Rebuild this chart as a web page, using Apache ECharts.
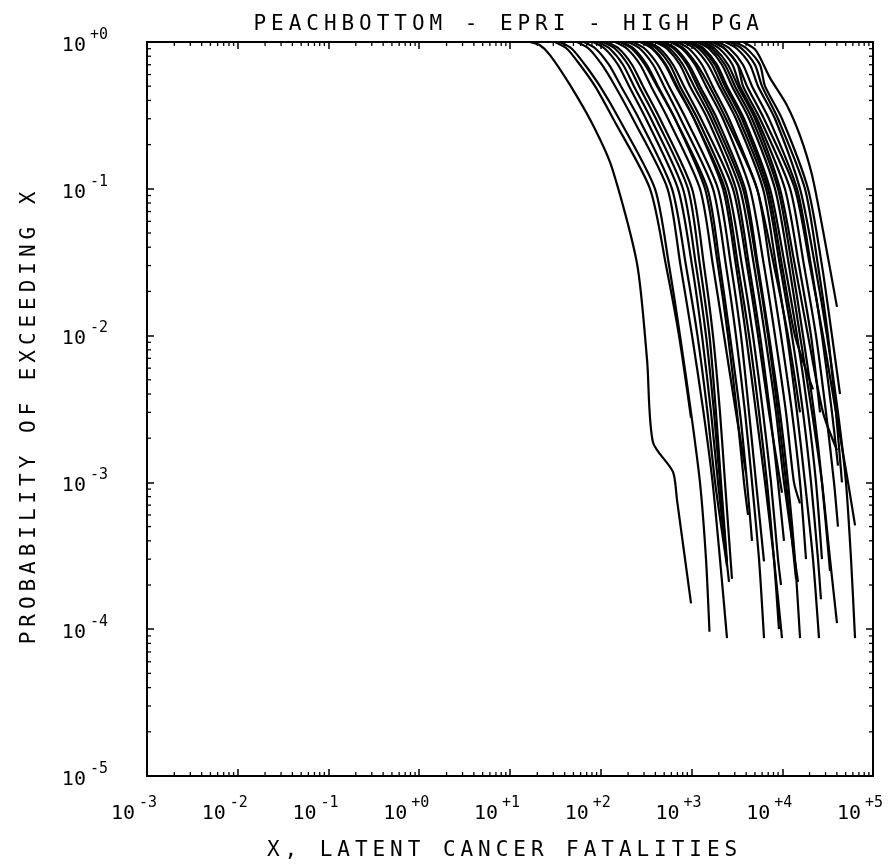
<!DOCTYPE html>
<html>
<head>
<meta charset="utf-8">
<script src="https://cdn.jsdelivr.net/npm/echarts@6/dist/echarts.min.js"></script>
<style>
html,body{margin:0;padding:0;background:#fff;}
#chart{width:895px;height:867px;}
</style>
</head>
<body>
<div id="chart"></div>
<script>
// ---- text ----
const TITLE = 'PEACHBOTTOM - EPRI - HIGH PGA';
const X_NAME = 'X, LATENT CANCER FATALITIES';
const Y_NAME = 'PROBABILITY OF EXCEEDING X';
const X_TICK_LABELS = ['-3','-2','-1','+0','+1','+2','+3','+4','+5'];   // exponents 10^-3 .. 10^5
const Y_TICK_LABELS = ['-5','-4','-3','-2','-1','+0'];                   // exponents 10^-5 .. 10^0

// ---- curves: [x (latent cancer fatalities), probability of exceeding x] ----
const c01 = [[16.6,1],[21.4,0.95],[27.6,0.815],[45.8,0.51],[82,0.272],[133,0.139],[251,0.031],[324,0.0068],[376,0.00188],[625,0.00118],[692,0.00076],[988,0.00015]];
const c02 = [[31.3,1],[42.4,0.9],[59,0.7],[86.5,0.5],[137,0.3],[349,0.1],[524,0.03],[728,0.01],[988,0.00275]];
const c03 = [[35.6,1],[48,0.9],[67,0.7],[98,0.5],[159,0.3],[396,0.1],[566,0.03],[747,0.01],[988,0.003],[1240,0.001],[1445,0.0003],[1578,0.000096]];
const c04 = [[54.7,1],[74,0.9],[103,0.7],[144,0.5],[226,0.3],[545,0.1],[757,0.03],[1014,0.01],[1357,0.003],[1708,0.001],[2060,0.0003],[2462,0.000087]];
const c05 = [[65.3,1],[88,0.9],[123,0.7],[167,0.5],[264,0.3],[610,0.1],[869,0.03],[1164,0.01],[1500,0.003],[1820,0.001],[2462,0.00027]];
const c06 = [[82.2,1],[111,0.9],[155,0.7],[205,0.5],[315,0.3],[710,0.1],[1014,0.03],[1305,0.01],[1641,0.003],[1958,0.001],[2590,0.00021]];
const c07 = [[106,1],[144,0.9],[200,0.7],[264,0.5],[406,0.3],[915,0.1],[1240,0.03],[1578,0.01],[1862,0.003],[2114,0.001],[2462,0.00029]];
const c08 = [[117,1],[159,0.9],[221,0.7],[292,0.5],[450,0.3],[1014,0.1],[1374,0.03],[1725,0.01],[2060,0.003],[2339,0.001],[2793,0.00022]];
const c09 = [[144,1],[195,0.9],[272,0.7],[358,0.5],[551,0.3],[1240,0.1],[1725,0.03],[2281,0.01],[3090,0.003],[3990,0.00116]];
const c10 = [[200,1],[271,0.9],[377,0.7],[498,0.5],[757,0.3],[1725,0.1],[2399,0.03],[3090,0.01],[3890,0.003],[4645,0.001],[5546,0.0003],[6295,0.000087]];
const c11 = [[226,1],[306,0.9],[426,0.7],[565,0.5],[869,0.3],[1958,0.1],[2723,0.03],[3509,0.01],[4305,0.003],[5140,0.001],[6295,0.00029]];
const c12 = [[278,1],[377,0.9],[524,0.7],[692,0.5],[1066,0.3],[2223,0.1],[3090,0.03],[3990,0.01],[5140,0.003],[6460,0.001],[8110,0.0003],[9936,0.000087]];
const c13 = [[332,1],[450,0.9],[626,0.7],[826,0.5],[1273,0.3],[2866,0.1],[4090,0.03],[5410,0.01],[7145,0.003],[9936,0.00085]];
const c14 = [[427,1],[579,0.9],[805,0.7],[1066,0.5],[1641,0.3],[3420,0.1],[4885,0.03],[6460,0.01],[8530,0.003],[10450,0.001],[14920,0.00021]];
const c15 = [[498,1],[675,0.9],[939,0.7],[1240,0.5],[1910,0.3],[3890,0.1],[5410,0.03],[7145,0.01],[9440,0.003],[11570,0.001],[13800,0.0003],[15700,0.000087]];
const c16 = [[580,1],[786,0.9],[1094,0.7],[1445,0.5],[2223,0.3],[4410,0.1],[6295,0.03],[8320,0.01],[11000,0.003],[13460,0.001],[15700,0.00072]];
const c17 = [[692,1],[938,0.9],[1305,0.7],[1708,0.5],[2590,0.3],[5270,0.1],[8110,0.03],[11570,0.01],[15700,0.003]];
const c18 = [[805,1],[1090,0.9],[1518,0.7],[2009,0.5],[3090,0.3],[6138,0.1],[8530,0.03],[11280,0.01],[14540,0.003],[17800,0.001],[21820,0.0003],[25410,0.000087]];
const c19 = [[962,1],[1305,0.9],[1814,0.7],[2339,0.5],[3600,0.3],[6966,0.1],[9936,0.03],[13800,0.01],[21820,0.0043]];
const c20 = [[1150,1],[1560,0.9],[2169,0.7],[2793,0.5],[4305,0.3],[8320,0.1],[11860,0.03],[15700,0.01],[21280,0.003],[27400,0.001],[33600,0.0003],[40090,0.00011]];
const c21 = [[1340,1],[1815,0.9],[2527,0.7],[3253,0.5],[5010,0.3],[9440,0.1],[13800,0.03],[19230,0.01],[28120,0.003],[40090,0.00166]];
const c22 = [[1725,1],[2340,0.9],[3253,0.7],[4090,0.5],[6295,0.3],[13800,0.1],[20200,0.03],[28120,0.01],[39090,0.003],[53090,0.001],[63400,0.00051]];
const c23 = [[2339,1],[3170,0.9],[4411,0.7],[5410,0.5],[8320,0.3],[15700,0.1],[23000,0.03],[31120,0.01],[41110,0.003],[50350,0.001],[57260,0.0003],[63400,0.000087]];
const c24 = [[3698,1],[5100,0.88],[7330,0.57],[11280,0.37],[15700,0.23],[21280,0.124],[28120,0.052],[40090,0.0157]];
const c25 = [[3010,1],[4080,0.9],[5677,0.7],[6460,0.5],[9936,0.3],[19230,0.1],[27400,0.03],[35320,0.01],[43300,0.004]];
const c26 = [[171,1],[232,0.9],[322,0.7],[427,0.5],[658,0.3],[1410,0.1],[1958,0.03],[2524,0.01],[3170,0.003],[3790,0.001],[4198,0.0006]];
const c27 = [[307,1],[416,0.9],[579,0.7],[747,0.5],[1164,0.3],[2524,0.1],[3600,0.03],[4760,0.01],[6138,0.003],[7516,0.001],[8978,0.0003],[9690,0.0002]];
const c28 = [[610,1],[827,0.9],[1150,0.7],[1578,0.5],[2399,0.3],[5270,0.1],[7330,0.03],[9690,0.01],[12800,0.003],[15700,0.001],[18270,0.0003]];
const c29 = [[1708,1],[2316,0.9],[3221,0.7],[3698,0.5],[5690,0.3],[12200,0.1],[17380,0.03],[23550,0.01],[30340,0.003],[37170,0.001],[41110,0.0005]];
const c30 = [[1500,1],[2034,0.9],[2829,0.7],[3420,0.5],[5270,0.3],[10700,0.1],[15310,0.03],[20750,0.01],[26100,0.003]];
const c31 = [[473,1],[641,0.9],[892,0.7],[1164,0.5],[1770,0.3],[3698,0.1],[5270,0.03],[6966,0.01],[8978,0.003],[11000,0.001],[14190,0.00022]];
const c32 = [[1014,1],[1375,0.9],[1912,0.7],[2462,0.5],[3790,0.3],[7330,0.1],[10700,0.03],[14540,0.01],[19230,0.003],[23550,0.001],[27400,0.0003]];
const c33 = [[93.3,1],[126,0.9],[176,0.7],[232,0.5],[358,0.3],[805,0.1],[1122,0.03],[1445,0.01],[1770,0.003],[2060,0.001],[2399,0.00033]];
const c34 = [[1240,1],[1680,0.9],[2340,0.7],[3010,0.5],[4645,0.3],[8978,0.1],[12800,0.03],[16940,0.01],[22390,0.003],[27400,0.001],[33600,0.00025]];
const c35 = [[1958,1],[2650,0.9],[3690,0.7],[4645,0.5],[7145,0.3],[14540,0.1],[20750,0.03],[27400,0.01],[35320,0.003],[41110,0.0013]];
const c36 = [[891,1],[1210,0.9],[1680,0.7],[2168,0.5],[3336,0.3],[6620,0.1],[9440,0.03],[12800,0.01],[16940,0.003],[20750,0.001],[24770,0.0003],[26700,0.00016]];
const c37 = [[396,1],[537,0.9],[747,0.7],[962,0.5],[1500,0.3],[3090,0.1],[4305,0.03],[5690,0.01],[7330,0.003],[8978,0.001],[10450,0.0004]];
const c38 = [[2650,1],[3590,0.9],[5000,0.7],[5984,0.5],[8978,0.3],[17800,0.1],[24770,0.03],[31920,0.01],[39090,0.003],[45520,0.001]];
const c39 = [[271,1],[368,0.9],[511,0.7],[675,0.5],[1066,0.3],[2339,0.1],[3253,0.03],[4305,0.01],[5546,0.003],[6790,0.001],[8110,0.0003],[9200,0.0001]];
const c40 = [[163,1],[221,0.9],[307,0.7],[417,0.5],[658,0.3],[1500,0.1],[2060,0.03],[2650,0.01],[3420,0.003],[4090,0.001],[4645,0.0004]];

const CURVES = [c01,c02,c03,c04,c05,c06,c07,c08,c09,c10,c11,c12,c13,c14,c15,c16,c17,c18,c19,c20,
                c21,c22,c23,c24,c25,c26,c27,c28,c29,c30,c31,c32,c33,c34,c35,c36,c37,c38,c39,c40];

// ---- styling ----
const FONT = 'DejaVu Sans Mono';
const PITCH = 17.6;
function spaced(str){ return str.split('').map(ch => '{c|' + ch + '}').join(''); }
const cellRich = { c: { fontFamily: FONT, fontSize: 21, fontWeight: 'normal', width: PITCH, align: 'center', color: '#000', lineHeight: 21 } };
const tickRich = {
  b: { fontFamily: FONT, fontSize: 20, color: '#000', lineHeight: 28, verticalAlign: 'bottom' },
  s: { fontFamily: FONT, fontSize: 15, color: '#000', lineHeight: 28, verticalAlign: 'top', padding: [0,0,0,4] }
};
function xLab(v){ const e = Math.round(Math.log10(v)); return '{b|10}{s|' + X_TICK_LABELS[e + 3] + '}'; }
function yLab(v){ const e = Math.round(Math.log10(v)); return '{b|10}{s|' + Y_TICK_LABELS[e + 5] + '}'; }

const axisLine = { show: true, onZero: false, lineStyle: { color: '#000', width: 2 } };
const axisTick = { show: true, inside: true, length: 7, lineStyle: { color: '#000', width: 1.5 } };

const GRID = { left: 147, top: 42, width: 726, height: 734 };

const chart = echarts.init(document.getElementById('chart'), null, { renderer: 'canvas' });
const option = {
  animation: false,
  backgroundColor: '#fff',
  title: { text: spaced(TITLE), left: 246, top: 9, textStyle: { fontWeight: 'normal', rich: cellRich } },
  grid: GRID,
  xAxis: [
    { type: 'log', logBase: 10, min: 1e-3, max: 1e5, interval: 1, position: 'bottom',
      axisLine, axisTick, splitLine: { show: false },
      axisLabel: { formatter: xLab, rich: tickRich, margin: 20, align: 'center', padding: [0,26,0,0] },
      name: spaced(X_NAME), nameLocation: 'middle', nameGap: 64,
      nameTextStyle: { rich: cellRich, padding: [0,16,0,0] } },
    { type: 'log', logBase: 10, min: 1e-3, max: 1e5, interval: 1, position: 'top',
      axisLine, axisTick, splitLine: { show: false }, axisLabel: { show: false } }
  ],
  yAxis: [
    { type: 'log', logBase: 10, min: 1e-5, max: 1, interval: 1, position: 'left',
      axisLine, axisTick, splitLine: { show: false },
      axisLabel: { formatter: yLab, rich: tickRich, margin: 39, padding: [0,0,1,0] },
      name: spaced(Y_NAME), nameLocation: 'middle', nameGap: 107, nameRotate: 90,
      nameTextStyle: { rich: cellRich, padding: [0,18,0,0] } },
    { type: 'log', logBase: 10, min: 1e-5, max: 1, interval: 1, position: 'right',
      axisLine, axisTick, splitLine: { show: false }, axisLabel: { show: false } }
  ],
  series: CURVES.map((d, i) => ({
    name: 'run ' + (i + 1), type: 'line', data: d, showSymbol: false, symbol: 'none',
    xAxisIndex: 0, yAxisIndex: 0, clip: true, smooth: 0.25,
    lineStyle: { color: '#000', width: 2.2 }, silent: true
  }))
};
chart.setOption(option);

// minor (2..9) log ticks on all four sides, placed through the axes' own scales
const MINOR = [2,3,4,5,6,7,8,9];
const X_DECADES = [1e-3,1e-2,1e-1,1,10,100,1e3,1e4];
const Y_DECADES = [1e-5,1e-4,1e-3,1e-2,1e-1];
const g = [];
const L = 4;
const x0 = GRID.left, x1 = GRID.left + GRID.width, y0 = GRID.top, y1 = GRID.top + GRID.height;
X_DECADES.forEach(d => MINOR.forEach(m => {
  const px = chart.convertToPixel({ xAxisIndex: 0 }, d * m);
  g.push({ type: 'line', silent: true, shape: { x1: px, y1: y1, x2: px, y2: y1 - L }, style: { stroke: '#000', lineWidth: 1.3 } });
  g.push({ type: 'line', silent: true, shape: { x1: px, y1: y0, x2: px, y2: y0 + L }, style: { stroke: '#000', lineWidth: 1.3 } });
}));
Y_DECADES.forEach(d => MINOR.forEach(m => {
  const py = chart.convertToPixel({ yAxisIndex: 0 }, d * m);
  g.push({ type: 'line', silent: true, shape: { x1: x0, y1: py, x2: x0 + L, y2: py }, style: { stroke: '#000', lineWidth: 1.3 } });
  g.push({ type: 'line', silent: true, shape: { x1: x1, y1: py, x2: x1 - L, y2: py }, style: { stroke: '#000', lineWidth: 1.3 } });
}));
chart.setOption({ graphic: g });
</script>
</body>
</html>
